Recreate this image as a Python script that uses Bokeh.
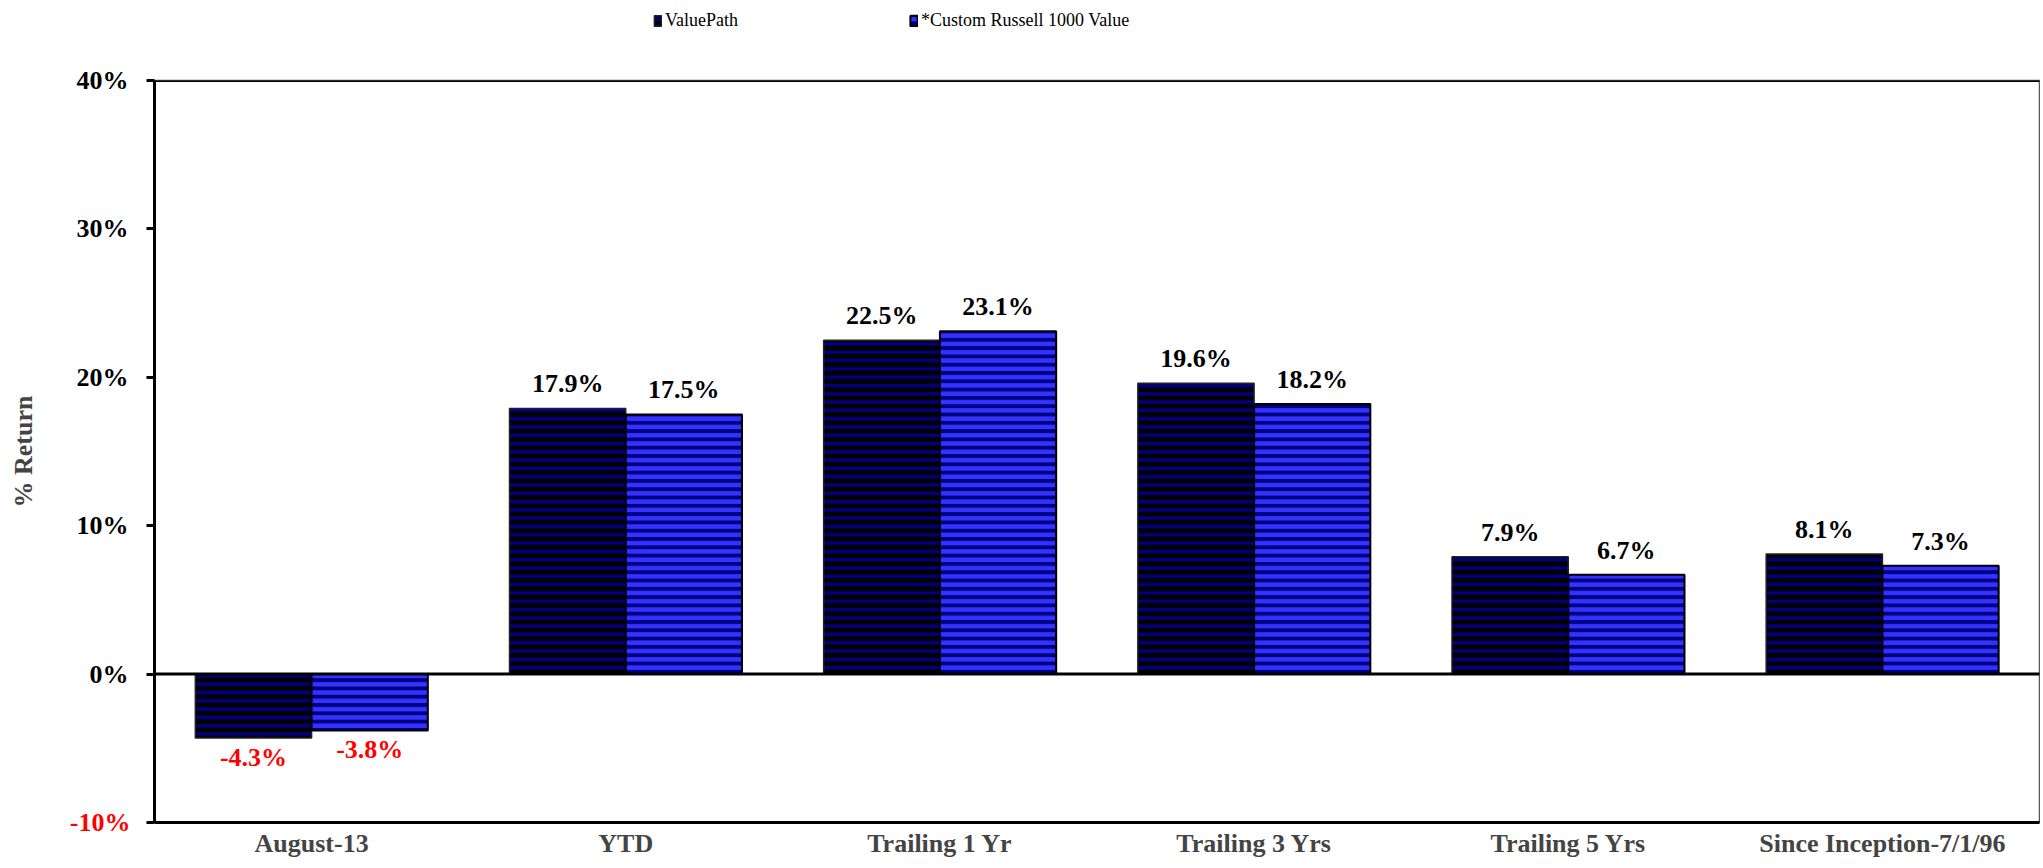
from bokeh.plotting import figure
from bokeh.layouts import column
from bokeh.models import (ColumnDataSource, Range1d, FixedTicker, Legend, LegendItem,
                          Span, LinearAxis, CustomJSTickFormatter)
from bokeh.core.properties import value
from bokeh.embed import file_html
from bokeh.resources import INLINE

categories = ["August-13", "YTD", "Trailing 1 Yr", "Trailing 3 Yrs", "Trailing 5 Yrs",
              "Since Inception-7/1/96"]
valuepath = [-4.3, 17.9, 22.5, 19.6, 7.9, 8.1]
russell = [-3.8, 17.5, 23.1, 18.2, 6.7, 7.3]
series_names = ["ValuePath", "*Custom Russell 1000 Value"]
y_ticks = [-10, 0, 10, 20, 30, 40]
neg_ticks = [t for t in y_ticks if t < 0]

FONT = value("Liberation Serif")
NAVY = "#000080"
BRIGHT = "#3333FF"
W = 2040
LEG_H = 40

style1 = dict(fill_color="black", hatch_pattern="horizontal_line", hatch_color=NAVY,
              hatch_scale=8.3, hatch_weight=3.5, line_color="#222222", line_width=1.5)
style2 = dict(fill_color=NAVY, hatch_pattern="horizontal_line", hatch_color=BRIGHT,
              hatch_scale=8.3, hatch_weight=4.5, line_color="black", line_width=2)

centers = [i + 0.5 for i in range(len(categories))]
bw = 0.37
src1 = ColumnDataSource(dict(x=[c - bw / 2 for c in centers], top=valuepath))
src2 = ColumnDataSource(dict(x=[c + bw / 2 for c in centers], top=russell))

# ---- legend strip (separate small figure so the legend is not clipped) ----
pl = figure(width=W, height=LEG_H, output_backend="svg", toolbar_location=None,
            x_range=Range1d(0, len(categories)), y_range=Range1d(-10, 40),
            x_axis_type=None, y_axis_type=None, min_border=0)
pl.xgrid.visible = False
pl.ygrid.visible = False
pl.outline_line_color = None
lr1 = pl.vbar(x="x", top="top", bottom=0, width=bw, source=src1, visible=False, **style1)
lr2 = pl.vbar(x="x", top="top", bottom=0, width=bw, source=src2, visible=False, **style2)
legend = Legend(items=[LegendItem(label=series_names[0], renderers=[lr1]),
                       LegendItem(label=series_names[1], renderers=[lr2])],
                location=(499, 9), orientation="horizontal",
                padding=0, margin=0, spacing=0, label_width=244, label_standoff=3,
                glyph_width=9, glyph_height=13,
                border_line_color=None, background_fill_alpha=0,
                inactive_fill_alpha=0,
                label_text_font="Liberation Serif", label_text_font_size="18px",
                label_text_color="black")
pl.add_layout(legend, "center")

# ---- main chart ----
p = figure(width=W, height=862 - LEG_H, output_backend="svg", toolbar_location=None,
           x_range=Range1d(0, len(categories)), y_range=Range1d(-10, 40),
           min_border_left=154, min_border_right=1, min_border_top=80 - LEG_H,
           min_border_bottom=40)
p.xgrid.visible = False
p.ygrid.visible = False
p.outline_line_color = "#555555"
p.outline_line_width = 1.5
p.background_fill_color = "white"
p.border_fill_color = "white"

r1 = p.vbar(x="x", top="top", bottom=0, width=bw, source=src1, **style1)
r2 = p.vbar(x="x", top="top", bottom=0, width=bw, source=src2, **style2)

# zero line and top border line
p.add_layout(Span(location=0, dimension="width", line_color="black", line_width=3))
p.add_layout(Span(location=40, dimension="width", line_color="black", line_width=3))

# value labels
def label_source(xs, vals):
    return ColumnDataSource(dict(
        x=xs, y=vals,
        text=[f"{v:.1f}%" for v in vals],
        color=["red" if v < 0 else "black" for v in vals],
        baseline=["top" if v < 0 else "bottom" for v in vals],
        yoff=[5 if v < 0 else -10 for v in vals],
    ))

for src in (label_source(src1.data["x"], valuepath), label_source(src2.data["x"], russell)):
    p.text(x="x", y="y", text="text", source=src, text_color="color",
           text_baseline="baseline", y_offset="yoff", text_align="center",
           text_font=FONT, text_font_style="bold", text_font_size="26px")

# main y axis (black labels for non-negative ticks)
yax = p.yaxis[0]
yax.ticker = FixedTicker(ticks=y_ticks)
yax.formatter = CustomJSTickFormatter(code="return tick < 0 ? ' ' : tick + '%';")
yax.major_label_text_font = "Liberation Serif"
yax.major_label_text_font_style = "bold"
yax.major_label_text_font_size = "26px"
yax.major_label_text_color = "black"
yax.major_label_standoff = 18
yax.major_tick_out = 8
yax.major_tick_in = 0
yax.major_tick_line_width = 3
yax.minor_tick_line_color = None
yax.axis_line_width = 3
yax.axis_label = "% Return"
yax.axis_label_text_font = "Liberation Serif"
yax.axis_label_text_font_style = "bold"
yax.axis_label_text_font_size = "26px"
yax.axis_label_standoff = 36

# outer helper axis that only draws the red negative tick label
red_axis = LinearAxis(ticker=FixedTicker(ticks=neg_ticks),
                      formatter=CustomJSTickFormatter(code="return tick + '%';"),
                      axis_line_color=None, major_tick_line_color=None,
                      minor_tick_line_color=None, major_tick_out=0, major_tick_in=0,
                      major_label_standoff=-125,
                      major_label_text_color="red",
                      major_label_text_font="Liberation Serif",
                      major_label_text_font_style="bold",
                      major_label_text_font_size="26px")
p.add_layout(red_axis, "left")

xax = p.xaxis[0]
xax.ticker = FixedTicker(ticks=centers)
xax.major_label_overrides = {c: name for c, name in zip(centers, categories)}
xax.major_label_text_font = "Liberation Serif"
xax.major_label_text_font_style = "bold"
xax.major_label_text_font_size = "26px"
xax.major_label_standoff = 6
xax.major_tick_out = 0
xax.major_tick_in = 0
xax.major_tick_line_color = None
xax.minor_tick_line_color = None
xax.axis_line_width = 3

layout = column(pl, p, spacing=0)
open("out.html", "w").write(file_html(layout, INLINE))
